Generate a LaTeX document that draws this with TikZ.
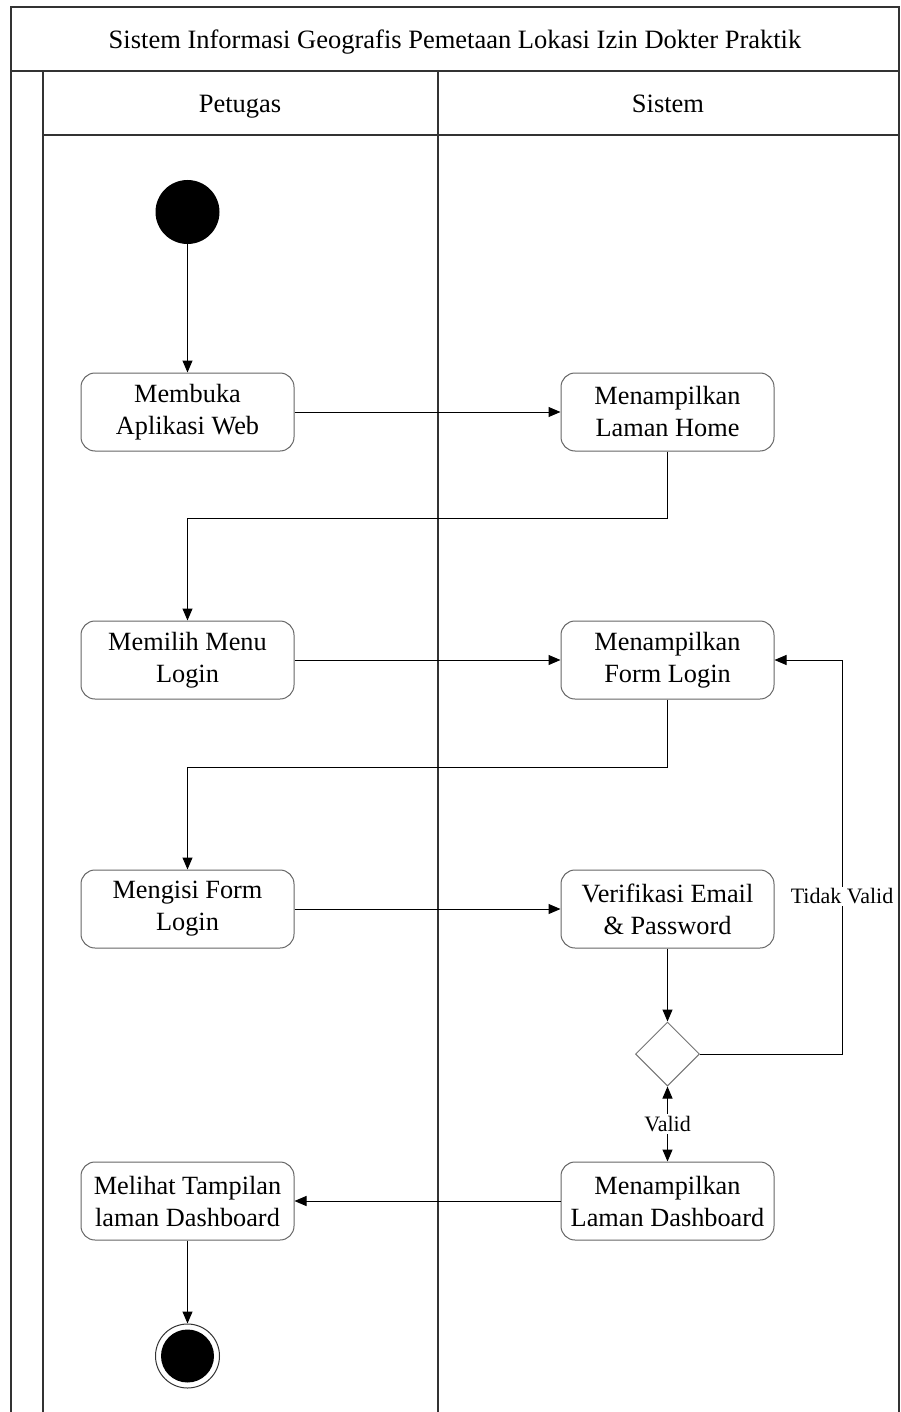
\documentclass[tikz,border=0pt]{standalone}
\usepackage{fontspec}
\setmainfont{Liberation Serif}
\usetikzlibrary{arrows.meta,shapes.geometric}
\begin{document}
\begin{tikzpicture}[x=1pt,y=-1pt,
  frameline/.style={draw=black!80,line width=1.1pt},
  action/.style={draw=black!60,line width=1pt,rounded corners=14pt,fill=white,
    minimum width=213pt,minimum height=78pt,align=center,inner sep=2pt,
    font=\fontsize{26.3}{32}\selectfont},
  lanehead/.style={font=\fontsize{26.5}{32}\selectfont,text height=18pt,text depth=6pt},
  flow/.style={draw=black,line width=1pt,-{Triangle[length=12pt,width=10pt]}},
  lbl/.style={fill=white,inner sep=2pt,font=\fontsize{22}{26}\selectfont},
  decision/.style={diamond,draw=black!55,line width=1pt,fill=white,
    minimum width=64pt,minimum height=64pt,inner sep=0pt},
  startnode/.style={circle,fill=black,minimum size=64pt,inner sep=0pt},
  endring/.style={circle,draw=black!80,line width=1pt,fill=white,minimum size=64pt,inner sep=0pt},
  enddot/.style={circle,fill=black,minimum size=53pt,inner sep=0pt}]
\useasboundingbox (0,0) rectangle (900,1412);
% swimlane frame
\draw[frameline] (11,1412) -- (11,7) -- (899,7) -- (899,1412);
\draw[frameline] (11,71) -- (899,71);
\draw[frameline] (43,71) -- (43,1412);
\draw[frameline] (43,135) -- (899,135);
\draw[frameline] (438,71) -- (438,1412);
\node[lanehead] (title) at (455,43) {Sistem Informasi Geografis Pemetaan Lokasi Izin Dokter Praktik};
\node[lanehead] (petugas) at (240,107) {Petugas};
\node[lanehead] (sistem) at (668,107) {Sistem};
% activities
\node[startnode] (start) at (187.5,212) {};
\node[action] (buka) at (187.5,412) {Membuka\\Aplikasi Web};
\node[action] (home) at (667.5,412) {Menampilkan\\Laman Home};
\node[action] (menu) at (187.5,660) {Memilih Menu\\Login};
\node[action] (form) at (667.5,660) {Menampilkan\\Form Login};
\node[action] (isi) at (187.5,909) {Mengisi Form\\Login};
\node[action] (verif) at (667.5,909) {Verifikasi Email\\\& Password};
\node[decision] (dec) at (667.5,1054) {};
\node[action] (dash) at (667.5,1201) {Menampilkan\\Laman Dashboard};
\node[action] (lihat) at (187.5,1201) {Melihat Tampilan\\laman Dashboard};
\node[endring] (endr) at (187.5,1356) {};
\node[enddot] (endd) at (187.5,1356) {};
\coordinate (tv) at (842,1054);
% flows
\draw[flow] (start) -- (buka);
\draw[flow] (buka) -- (home);
\draw[flow] (home.south) -- ++(0,67) -| (menu.north);
\draw[flow] (menu) -- (form);
\draw[flow] (form.south) -- ++(0,68) -| (isi.north);
\draw[flow] (isi) -- (verif);
\draw[flow] (verif) -- (dec);
\draw[flow] (dec.east) -- (tv) |- node[lbl,pos=0.2] {Tidak Valid} (form.east);
\draw[flow,{Triangle[length=12pt,width=10pt]}-{Triangle[length=12pt,width=10pt]}] (dec.south) -- node[lbl] {Valid} (dash.north);
\draw[flow] (dash) -- (lihat);
\draw[flow] (lihat) -- (endr);
\end{tikzpicture}
\end{document}
